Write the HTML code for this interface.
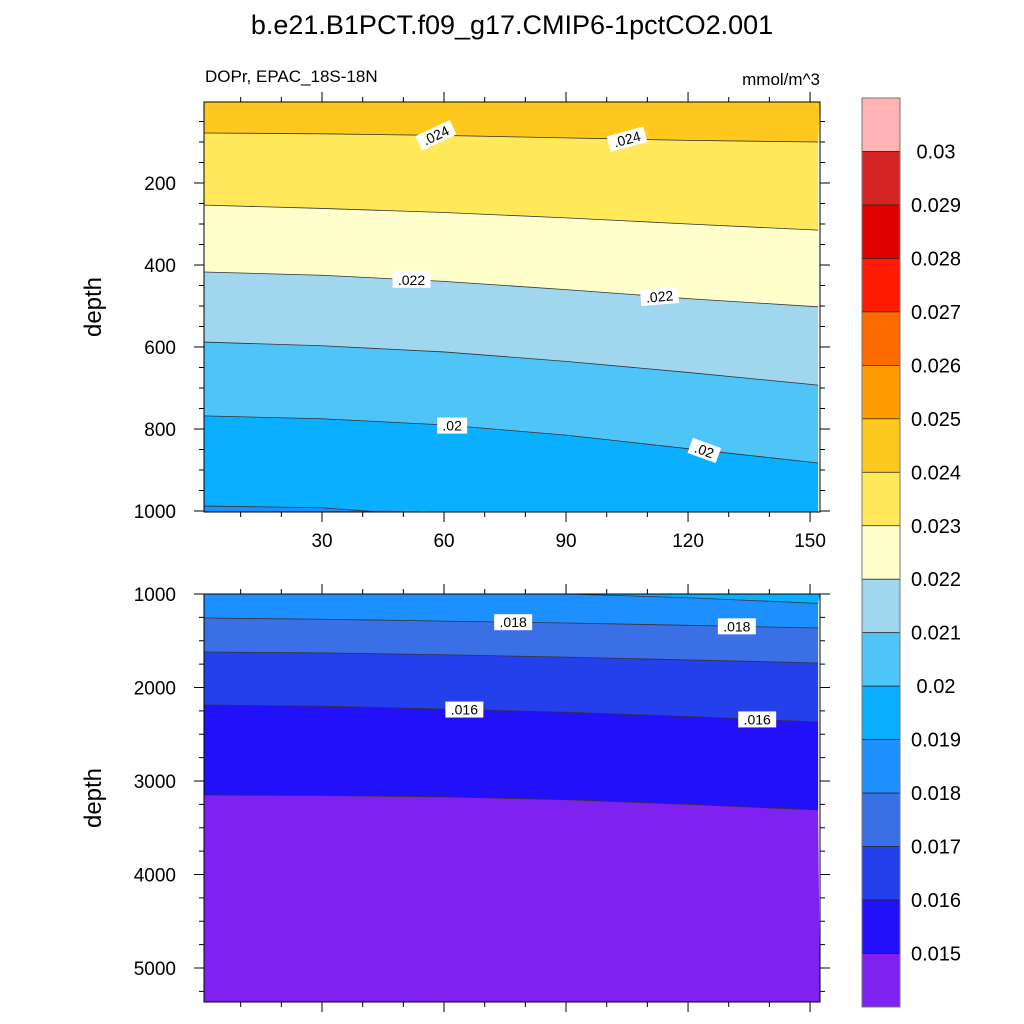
<!DOCTYPE html>
<html><head><meta charset="utf-8"><style>
body{margin:0;background:#fff}
svg{display:block;font-family:"Liberation Sans",sans-serif}
</style></head><body>
<svg id="chart" width="1024" height="1024" viewBox="0 0 1024 1024">
<text x="512" y="34" font-size="27" text-anchor="middle">b.e21.B1PCT.f09_g17.CMIP6-1pctCO2.001</text>
<text x="205" y="82" font-size="17">DOPr, EPAC_18S-18N</text>
<text x="820" y="85" font-size="17" text-anchor="end">mmol/m^3</text>
<g id="topPanel"></g>
<g id="botPanel"></g>
<g id="cbar"></g>
</svg>
<script>
const xSamples=[0,30,60,90,120,152];
// top panel contour depths (m) at xSamples
const topC024=[78,80,84,90,96,100];
const topC023=[254,262,272,285,300,315];
const topC022=[417,425,440,460,482,502];
const topC021=[588,597,612,635,662,693];
const topC020=[768,775,790,815,848,883];
const topC019=[988,992,1030,1060,1080,1100];
const topColors=["#ffc81e","#ffe95a","#ffffcc","#a0d6ee","#4ec4f7","#0aafff","#1e8fff"];
// bottom panel
const botC019=[985,990,995,1000,1040,1100];
const botC018=[1257,1270,1290,1310,1335,1364];
const botC017=[1620,1630,1650,1675,1705,1738];
const botC016=[2187,2200,2230,2265,2310,2369];
const botC015=[3150,3155,3170,3200,3250,3310];
const botColors=["#0aafff","#1e8fff","#3a6fe6","#2340ea","#2110f8","#7f22ef"];
const cbColors=["#ffb3b3","#d42525","#e00000","#ff1a00","#ff6a00","#ff9a00","#ffc81e","#ffe95a","#ffffcc","#a0d6ee","#4ec4f7","#0aafff","#1e8fff","#3a6fe6","#2340ea","#2110f8","#7f22ef"];
const cbLabels=["0.03","0.029","0.028","0.027","0.026","0.025","0.024","0.023","0.022","0.021","0.02","0.019","0.018","0.017","0.016","0.015"];
const xTicks=[30,60,90,120,150];
const topYTicks=[200,400,600,800,1000];
const botYTicks=[1000,2000,3000,4000,5000];
const topLabels=[[58,".024",-25],[105,".024",-15],[52,".022",0],[113,".022",-5],[62,".02",0],[124,".02",20]];
const topLabelLevels=[topC024,topC024,topC022,topC022,topC020,topC020];
const botLabels=[[77,".018"],[132,".018"],[65,".016"],[137,".016"]];
const botLabelLevels=[botC018,botC018,botC016,botC016];

const NS="http://www.w3.org/2000/svg";
const L=204,R=820,T1=102,B1=512,T2=594,B2=1002;
const xs=x=>200+x*4.067;
const ys1=d=>183+(d-200)*0.41;
const ys2=d=>594+(d-1000)*0.0935;
function mk(tag,at,parent){const e=document.createElementNS(NS,tag);for(const k in at)e.setAttribute(k,at[k]);parent.appendChild(e);return e;}
function interp(arr,x){for(let i=0;i<xSamples.length-1;i++){if(x<=xSamples[i+1]){const t=(x-xSamples[i])/(xSamples[i+1]-xSamples[i]);return arr[i]+t*(arr[i+1]-arr[i]);}}return arr[arr.length-1];}
function pts(arr,ys,tp,bt){return xSamples.map((x,i)=>[Math.min(Math.max(xs(x),L),R),Math.min(Math.max(ys(arr[i]),tp),bt)]);}
function panel(g,levels,colors,ys,tp,bt,yTicks,xLabels){
  const clip=mk('clipPath',{id:g.id+'clip'},g);mk('rect',{x:L,y:tp,width:R-L,height:bt-tp},clip);
  const inner=mk('g',{'clip-path':'url(#'+g.id+'clip)'},g);
  const bounds=[null,...levels,null];
  for(let i=0;i<colors.length;i++){
    const a=bounds[i],b=bounds[i+1];
    const up=a?pts(a,ys,tp,bt):[[L,tp],[R,tp]];
    const dn=b?pts(b,ys,tp,bt):[[L,bt],[R,bt]];
    const poly=up.concat(dn.slice().reverse()).map(p=>p.join(',')).join(' ');
    const e=mk('polygon',{points:poly,fill:colors[i]},inner);
    
    
  }
  levels.forEach((lv,i)=>{const e=mk('polyline',{points:pts(lv,ys,tp-5,bt+5).map(p=>p.join(',')).join(' '),fill:'none',stroke:'#333','stroke-width':0.8},inner);
    
    });
  const fr=mk('rect',{x:L,y:tp,width:R-L,height:bt-tp,fill:'none',stroke:'#000','stroke-width':1},g);
  
  
  for(let v=10;v<=150;v+=10){const X=xs(v);const maj=v%30===0;const len=maj?10:5;
    mk('line',{x1:X,y1:tp,x2:X,y2:tp-len,stroke:'#000'},g);mk('line',{x1:X,y1:bt,x2:X,y2:bt+len,stroke:'#000'},g);}
  if(xLabels)xTicks.forEach(v=>{const t=mk('text',{x:xs(v),y:bt+35,'font-size':19,'text-anchor':'middle'},g);t.textContent=v;
    
    });
  const step=(yTicks[1]-yTicks[0])/4;
  for(let d=yTicks[0]-step*4;d<=yTicks[yTicks.length-1]+step*4;d+=step){const Y=ys(d);if(Y<tp-0.5||Y>bt+0.5)continue;
    const maj=yTicks.includes(d);const len=maj?10:5;
    mk('line',{x1:L,y1:Y,x2:L-len,y2:Y,stroke:'#000'},g);mk('line',{x1:R,y1:Y,x2:R+len,y2:Y,stroke:'#000'},g);}
  yTicks.forEach(d=>{const t=mk('text',{x:L-28,y:ys(d)+7,'font-size':19,'text-anchor':'end'},g);t.textContent=d;
    
    });
  const yt=mk('text',{x:0,y:0,'font-size':24,'text-anchor':'middle',transform:`translate(101,${(tp+bt)/2}) rotate(-90)`},g);yt.textContent='depth';
  
  
}
function label(g,x,d,txt,rot,ys){const X=xs(x),Y=ys(interp(d,x));const gg=mk('g',{transform:`translate(${X},${Y}) rotate(${rot})`},g);
  
  
  const w=txt.length*8+6;mk('rect',{x:-w/2,y:-8,width:w,height:16,fill:'#fff'},gg);
  const t=mk('text',{x:0,y:5,'font-size':14,'text-anchor':'middle'},gg);t.textContent=txt;}
const topG=document.getElementById('topPanel'),botG=document.getElementById('botPanel');
panel(topG,[topC024,topC023,topC022,topC021,topC020,topC019],topColors,ys1,T1,B1,topYTicks,true);
panel(botG,[botC019,botC018,botC017,botC016,botC015],botColors,ys2,T2,B2,botYTicks,false);
topLabels.forEach((l,i)=>label(topG,l[0],topLabelLevels[i],l[1],l[2],ys1));
botLabels.forEach((l,i)=>label(botG,l[0],botLabelLevels[i],l[1],0,ys2));
const cb=document.getElementById('cbar');const cx=862,cw=38,ct=98,ch=(1007-98)/cbColors.length;
cbColors.forEach((c,i)=>{const r=mk('rect',{x:cx,y:ct+i*ch,width:cw,height:ch,fill:c,stroke:'#222','stroke-width':0.7},cb);
  
  });
mk('rect',{x:cx,y:ct,width:cw,height:1007-ct,fill:'none',stroke:'#777','stroke-width':1},cb);
cbLabels.forEach((s,i)=>{const t=mk('text',{x:936,y:ct+(i+1)*ch+7,'font-size':20,'text-anchor':'middle'},cb);t.textContent=s;
  
  });
</script>
</body></html>
